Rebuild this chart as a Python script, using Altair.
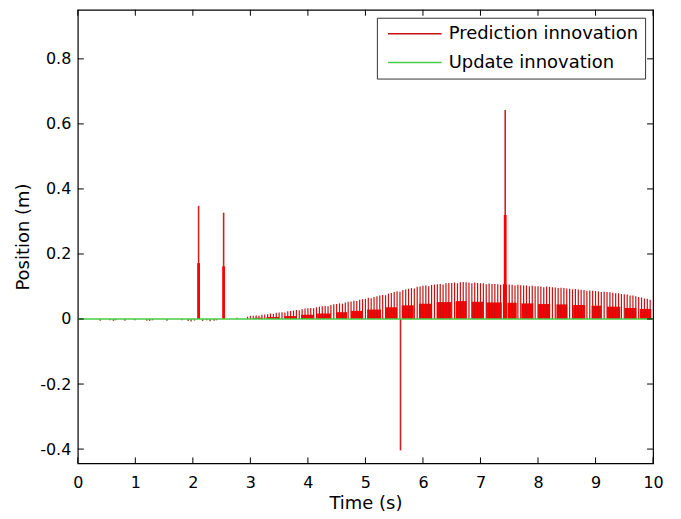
import altair as alt
import pandas as pd

# ---------------- data ----------------
series = ["Prediction innovation", "Update innovation"]
colors = ["#c81010", "#44cc44"]

spike_t = [
    2.95, 3.00, 3.05, 3.10, 3.15, 3.20, 3.25, 3.30, 3.35, 3.40, 3.45, 3.50, 3.55, 3.60, 3.65, 3.70, 3.75, 3.80, 3.85, 3.90, 3.95,
    4.00, 4.05, 4.10, 4.15, 4.20, 4.25, 4.30, 4.35, 4.40, 4.45, 4.50, 4.55, 4.60, 4.65, 4.70, 4.75, 4.80, 4.85, 4.90, 4.95,
    5.00, 5.05, 5.10, 5.15, 5.20, 5.25, 5.30, 5.35, 5.40, 5.45, 5.50, 5.55, 5.60, 5.65, 5.70, 5.75, 5.80, 5.85, 5.90, 5.95,
    6.00, 6.05, 6.10, 6.15, 6.20, 6.25, 6.30, 6.35, 6.40, 6.45, 6.50, 6.55, 6.60, 6.65, 6.70, 6.75, 6.80, 6.85, 6.90, 6.95,
    7.00, 7.05, 7.10, 7.15, 7.20, 7.25, 7.30, 7.35, 7.40, 7.45, 7.50, 7.55, 7.60, 7.65, 7.70, 7.75, 7.80, 7.85, 7.90, 7.95,
    8.00, 8.05, 8.10, 8.15, 8.20, 8.25, 8.30, 8.35, 8.40, 8.45, 8.50, 8.55, 8.60, 8.65, 8.70, 8.75, 8.80, 8.85, 8.90, 8.95,
    9.00, 9.05, 9.10, 9.15, 9.20, 9.25, 9.30, 9.35, 9.40, 9.45, 9.50, 9.55, 9.60, 9.65, 9.70, 9.75, 9.80, 9.85, 9.90, 9.95,
]
spike_h = [
    0.007, 0.009, 0.010, 0.011, 0.010, 0.013, 0.014, 0.015, 0.017, 0.016, 0.019, 0.020, 0.021, 0.020, 0.024, 0.025, 0.026, 0.028, 0.027, 0.030, 0.032,
    0.033, 0.034, 0.033, 0.036, 0.038, 0.039, 0.040, 0.039, 0.043, 0.045, 0.046, 0.048, 0.047, 0.051, 0.053, 0.054, 0.056, 0.055, 0.059, 0.061,
    0.062, 0.065, 0.064, 0.068, 0.070, 0.072, 0.074, 0.073, 0.078, 0.080, 0.083, 0.085, 0.084, 0.089, 0.091, 0.093, 0.095, 0.094, 0.099, 0.100,
    0.102, 0.103, 0.101, 0.105, 0.106, 0.107, 0.108, 0.106, 0.110, 0.111, 0.111, 0.112, 0.110, 0.113, 0.114, 0.113, 0.112, 0.110, 0.112, 0.111,
    0.110, 0.110, 0.107, 0.109, 0.108, 0.108, 0.107, 0.105, 0.107, 0.106, 0.106, 0.105, 0.103, 0.105, 0.104, 0.103, 0.103, 0.101, 0.102, 0.101,
    0.101, 0.100, 0.098, 0.100, 0.099, 0.098, 0.097, 0.095, 0.096, 0.095, 0.094, 0.093, 0.091, 0.092, 0.091, 0.090, 0.089, 0.087, 0.088, 0.087,
    0.086, 0.085, 0.083, 0.084, 0.083, 0.082, 0.081, 0.079, 0.079, 0.077, 0.076, 0.075, 0.072, 0.072, 0.070, 0.068, 0.066, 0.063, 0.062, 0.059,
]

block_start = [3.07, 3.28, 3.59, 3.88, 4.16, 4.49, 4.75, 5.03, 5.34, 5.63, 5.93, 6.24,
               6.57, 6.85, 7.10, 7.47, 7.71, 8.00, 8.32, 8.61, 8.93, 9.20, 9.51, 9.77]
block_end = [3.21, 3.50, 3.81, 4.11, 4.40, 4.68, 4.94, 5.27, 5.55, 5.84, 6.15, 6.49,
             6.76, 7.05, 7.37, 7.63, 7.92, 8.21, 8.51, 8.82, 9.10, 9.43, 9.71, 9.97]
block_h = [0.004, 0.006, 0.009, 0.013, 0.017, 0.021, 0.025, 0.029, 0.036, 0.042, 0.047, 0.052,
           0.055, 0.053, 0.051, 0.050, 0.048, 0.046, 0.045, 0.043, 0.041, 0.038, 0.034, 0.031]

big_t = [2.10, 2.535, 5.61, 7.43]
big_top = [0.348, 0.327, -0.404, 0.643]
big_mid = [0.172, 0.162, 0.0, 0.320]

noise_t = [0.39, 0.56, 0.62, 0.66, 0.82, 0.99, 1.20, 1.25, 1.30, 1.55, 1.81,
           1.92, 1.97, 2.03, 2.17, 2.24, 2.30, 2.37, 2.41, 2.77]
noise_v = [-0.005, -0.004, -0.006, -0.004, -0.005, -0.004, -0.005, -0.006, -0.004, -0.005, -0.004,
           -0.006, -0.008, -0.005, -0.006, -0.004, -0.007, -0.005, -0.004, 0.004]

x_ticks = [0, 1, 2, 3, 4, 5, 6, 7, 8, 9, 10]
y_ticks = [-0.4, -0.2, 0, 0.2, 0.4, 0.6, 0.8]
x_range = [0, 10]
y_range = [-0.444, 0.951]

assert len(spike_t) == len(spike_h)

# ---------------- tables ----------------
spikes = pd.DataFrame({"t": spike_t, "v": spike_h, "zero": 0.0, "series": series[0]})
blocks = pd.DataFrame({"t0": block_start, "t1": block_end, "v": block_h, "zero": 0.0})
big = pd.DataFrame({"t": big_t, "top": big_top, "mid": big_mid, "zero": 0.0})
noise = pd.DataFrame({"t": noise_t, "v": noise_v, "zero": 0.0})
green = pd.DataFrame({"t0": [x_range[0]], "t1": [x_range[1]], "v": [0.0], "series": [series[1]]})
xt = pd.DataFrame({"t": x_ticks})
yt = pd.DataFrame({"v": y_ticks})

W, H = 577, 455
FONT = "DejaVu Sans"
TL = 6

xs = alt.Scale(domain=x_range, nice=False, zero=False)
ys = alt.Scale(domain=y_range, nice=False, zero=False)

x_axis = alt.Axis(values=x_ticks, format="d", title="Time (s)", ticks=False, domain=False, grid=False,
                  labelFontSize=16, titleFontSize=18, labelFont=FONT, titleFont=FONT,
                  titleFontWeight="normal", labelColor="black", titleColor="black",
                  labelPadding=11, titlePadding=4, labelFlush=False, labelOverlap=False)
y_axis = alt.Axis(values=y_ticks, title="Position (m)", ticks=False, domain=False, grid=False,
                  labelExpr="datum.value == 0 ? '0' : replace(format(datum.value, '.1f'), '\u2212', '-')",
                  labelFontSize=16, titleFontSize=18, labelFont=FONT, titleFont=FONT,
                  titleFontWeight="normal", labelColor="black", titleColor="black",
                  labelPadding=7, titlePadding=7, labelFlush=False, labelOverlap=False)

color = alt.Color("series:N", scale=alt.Scale(domain=series, range=colors),
                  legend=alt.Legend(title=None, orient="none", legendX=300, legendY=8,
                                    symbolType="stroke", symbolSize=2900, symbolStrokeWidth=1.5,
                                    symbolOffset=4,
                                    clipHeight=20, labelLimit=400,
                                    labelFontSize=18, labelFont=FONT, labelColor="black",
                                    fillColor="white", strokeColor="#333333", padding=6,
                                    rowPadding=9, labelOffset=6, cornerRadius=0))

block_layer = alt.Chart(blocks).mark_rect(color="#ff0000").encode(
    x=alt.X("t0:Q", scale=xs, axis=x_axis), x2="t1:Q",
    y=alt.Y("zero:Q", scale=ys, axis=y_axis), y2="v:Q")

spike_layer = alt.Chart(spikes).mark_rule(strokeWidth=1.2).encode(
    x="t:Q", y="zero:Q", y2="v:Q", color=color)

big_thin = alt.Chart(big).mark_rule(strokeWidth=1.6, color="#cc2222").encode(
    x="t:Q", y="zero:Q", y2="top:Q")
big_thick = alt.Chart(big).mark_rule(strokeWidth=2.8, color="#ff0000").encode(
    x="t:Q", y="zero:Q", y2="mid:Q")

noise_layer = alt.Chart(noise).mark_rule(strokeWidth=1.5, color="#8b5a2b").encode(
    x="t:Q", y="zero:Q", y2="v:Q")

green_layer = alt.Chart(green).mark_rule(strokeWidth=1.5).encode(
    x="t0:Q", x2="t1:Q", y="v:Q", color=color)

tick_color = "black"
xb = alt.Chart(xt).mark_rule(color=tick_color, strokeWidth=1).encode(
    x="t:Q", y=alt.value(H), y2=alt.value(H - TL))
xtop = alt.Chart(xt).mark_rule(color=tick_color, strokeWidth=1).encode(
    x="t:Q", y=alt.value(0), y2=alt.value(TL))
yl = alt.Chart(yt).mark_rule(color=tick_color, strokeWidth=1).encode(
    y="v:Q", x=alt.value(0), x2=alt.value(TL))
yr = alt.Chart(yt).mark_rule(color=tick_color, strokeWidth=1).encode(
    y="v:Q", x=alt.value(W), x2=alt.value(W - TL))

chart = alt.layer(
    block_layer, spike_layer, big_thin, big_thick, noise_layer, green_layer, xb, xtop, yl, yr
).properties(
    width=W, height=H,
    autosize=alt.AutoSizeParams(type="none"),
    padding={"left": 70, "top": 1, "right": 20, "bottom": 50},
    background="white",
).configure_view(stroke="black", strokeWidth=1.2)

chart.save("out.html", embed_options={"renderer": "svg", "actions": False})
